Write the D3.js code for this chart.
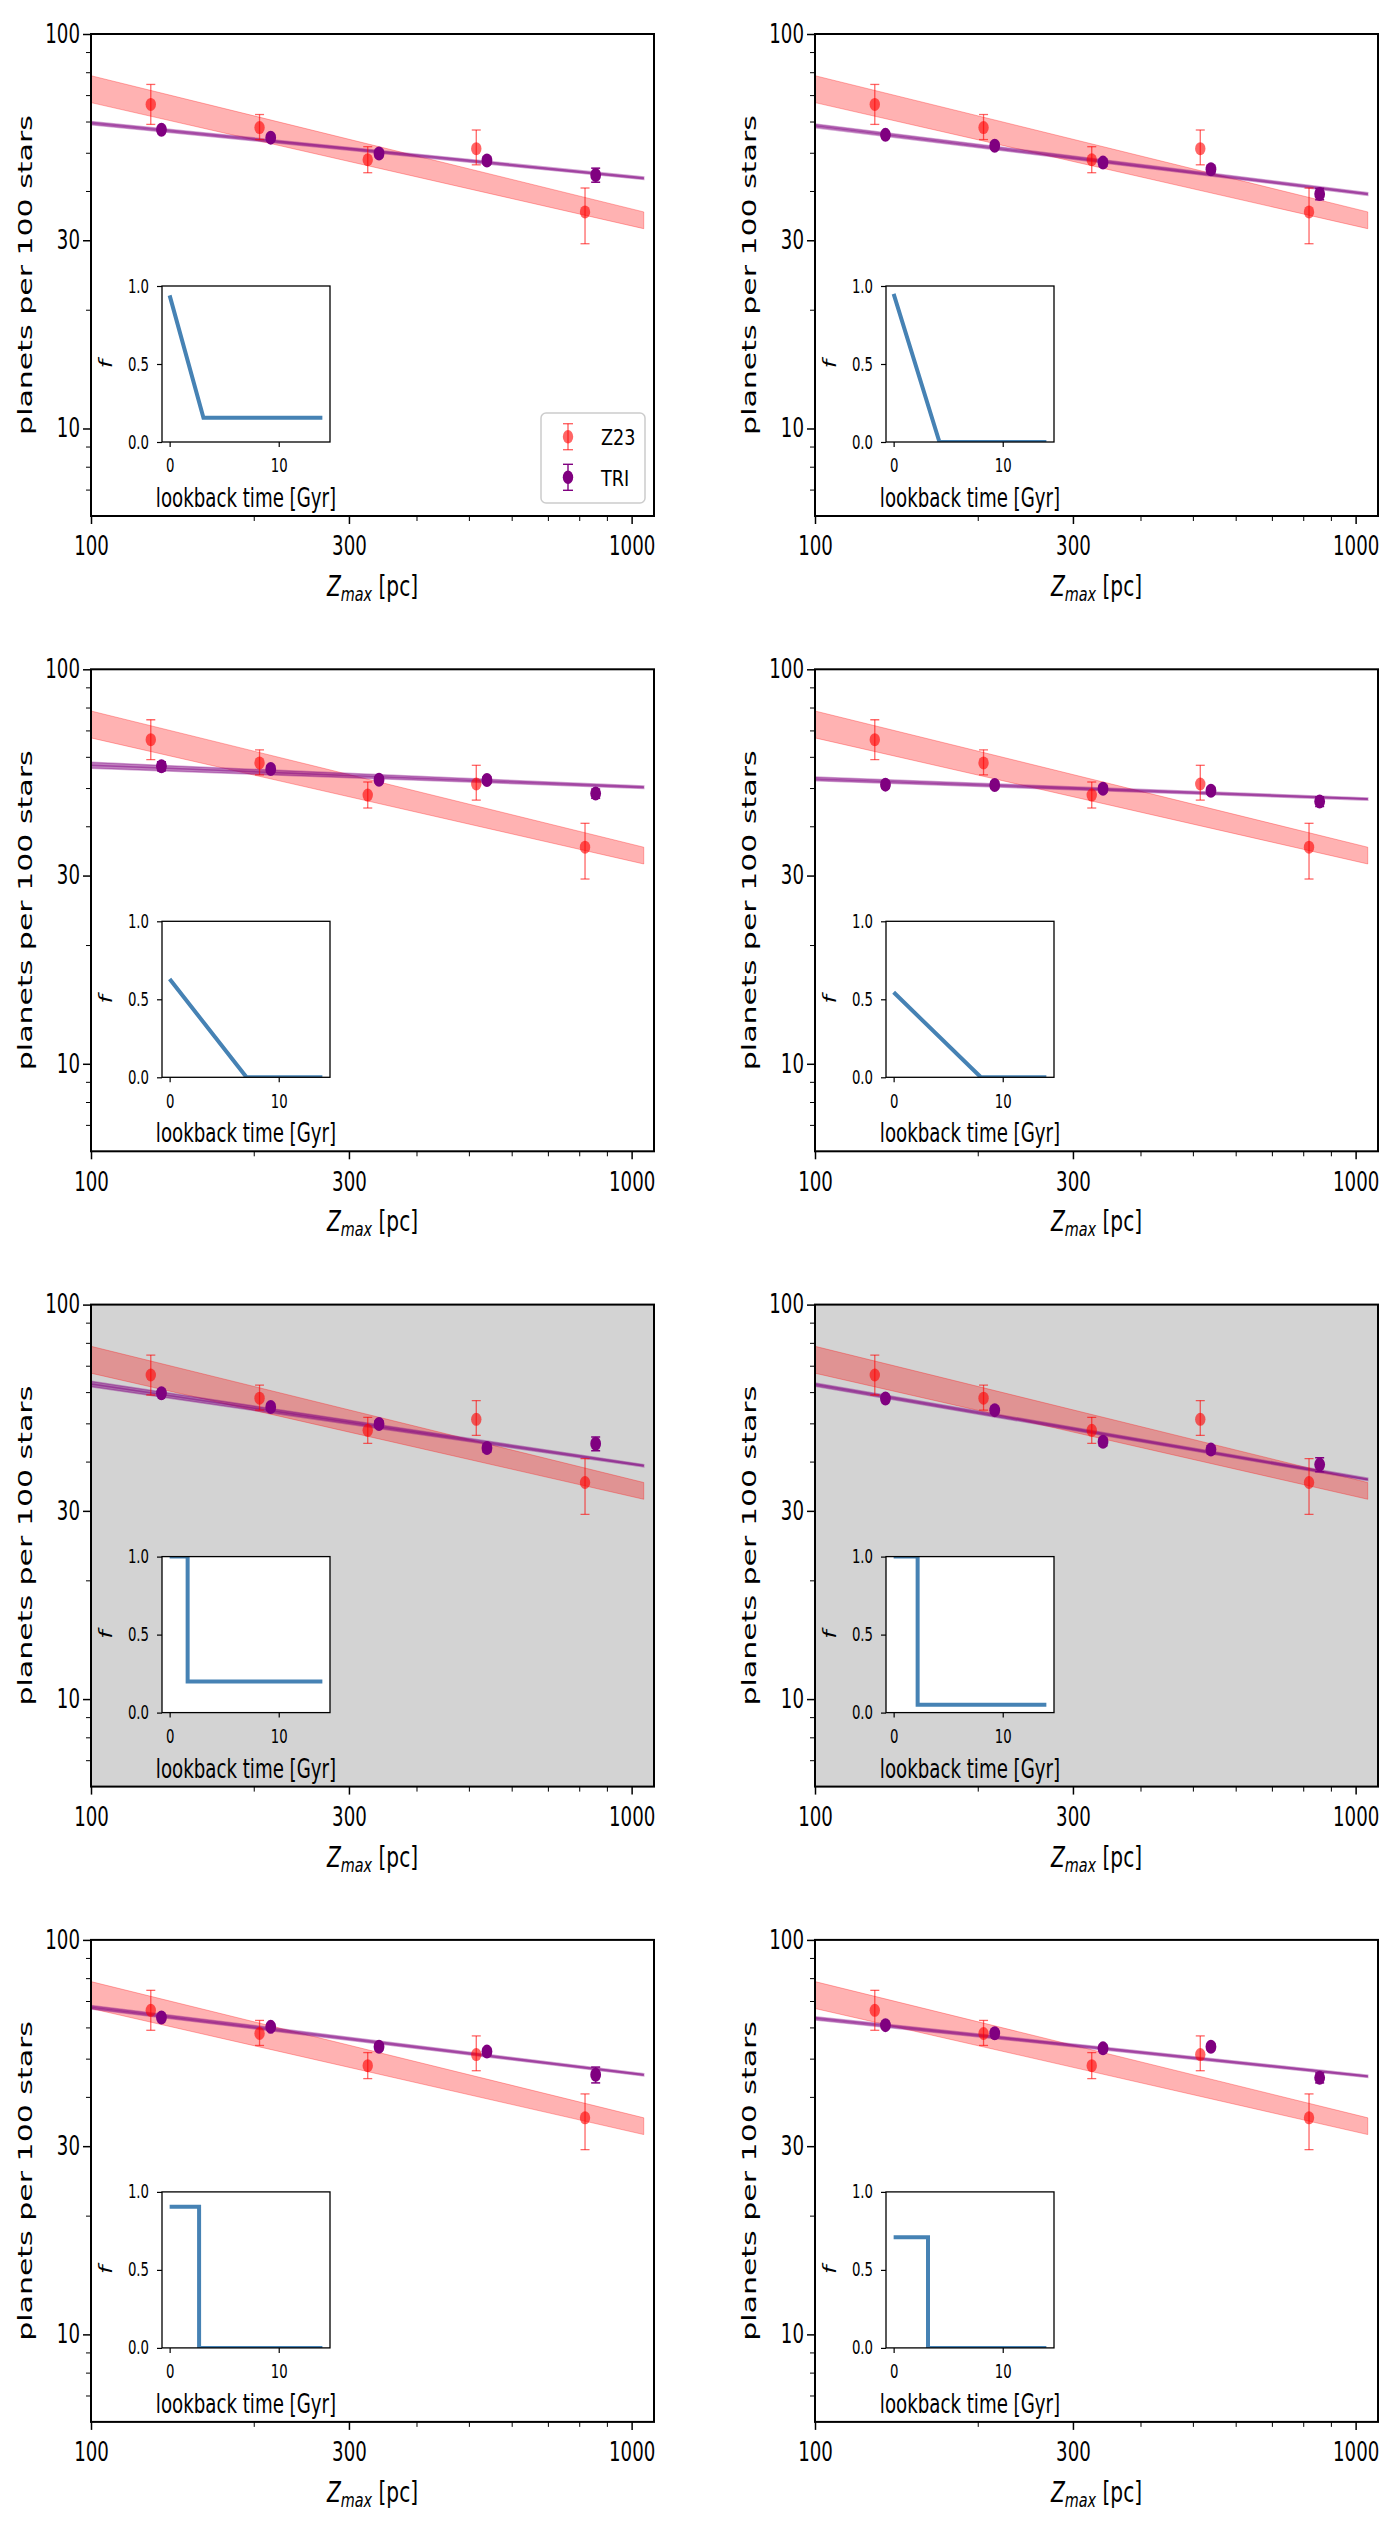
<!DOCTYPE html>
<html>
<head>
<meta charset="utf-8">
<script src="https://cdn.jsdelivr.net/npm/d3@7"></script>
<style>
  body { margin: 0; background: #fff; }
  svg { display: block; }
  text { font-family: "DejaVu Sans", sans-serif; fill: #000; }
</style>
</head>
<body>
<div id="chart"></div>
<script>
// Z23 observed occurrence (same in every panel)
const zmaxZ23 = [129, 205, 325, 516, 820]
const z23Rate = [66.3, 57.9, 48.0, 51.2, 35.4]
const z23Lo = [59.0, 54.0, 44.5, 46.6, 29.4]
const z23Hi = [74.5, 62.5, 51.8, 57.1, 40.7]

// Z23 power-law fit band, evaluated at the two ends of the fit range
const fitZ = [100, 1053]
const z23BandLo = [67.0, 32.1]
const z23BandHi = [78.4, 35.4]

// TRILEGAL model points, one row per panel (left to right, top to bottom)
const zmaxTRI = [135, 215, 341, 540, 858]
const triRate = [
  [57.2, 54.6, 49.8, 47.8, 43.9],
  [55.5, 52.1, 47.2, 45.4, 39.3],
  [56.8, 55.9, 52.5, 52.4, 48.4],
  [51.0, 50.9, 49.8, 49.2, 46.2],
  [59.6, 55.0, 49.8, 43.3, 44.4],
  [57.8, 54.0, 44.9, 42.9, 39.3],
  [63.6, 60.2, 53.6, 52.1, 45.5],
  [60.8, 58.0, 53.1, 53.6, 44.7]
]
const triErr = [
  [1.0, 1.0, 1.0, 1.0, 1.8],
  [1.0, 1.0, 1.0, 1.0, 1.3],
  [1.5, 1.0, 1.0, 1.0, 1.3],
  [1.0, 1.0, 1.0, 1.0, 1.3],
  [1.0, 1.0, 1.0, 1.0, 1.8],
  [1.0, 1.0, 1.0, 1.0, 1.6],
  [1.0, 1.0, 1.0, 1.0, 2.1],
  [1.0, 1.0, 1.0, 1.0, 1.3]
]
// TRI fit band at fitZ ends
const triBandLo = [
  [58.9, 42.8], [57.9, 39.0], [56.1, 49.9], [52.2, 46.6],
  [61.9, 38.8], [62.1, 35.8], [66.8, 45.2], [62.7, 44.8]
]
const triBandHi = [
  [60.0, 43.4], [59.1, 39.6], [58.1, 50.6], [53.3, 47.2],
  [63.9, 39.3], [63.3, 36.3], [68.2, 45.8], [63.9, 45.4]
]

// inset: f vs lookback time
const lbTime = [
  [0, 3.1, 14], [0, 4.2, 14], [0, 7.05, 14], [0, 8.0, 14],
  [0, 1.65, 1.65, 14], [0, 2.2, 2.2, 14], [0, 2.7, 2.7, 14], [0, 3.15, 3.15, 14]
]
const lbF = [
  [0.94, 0.155, 0.155], [0.95, 0, 0], [0.63, 0, 0], [0.545, 0, 0],
  [1, 1, 0.2, 0.2], [1, 1, 0.05, 0.05], [0.905, 0.905, 0, 0], [0.71, 0.71, 0, 0]
]
const grayPanel = [false, false, false, false, true, true, false, false]

const xMajor = [100, 300, 1000]
const xMinor = [200, 400, 500, 600, 700, 800, 900]
const yMajor = [10, 30, 100]
const yMinor = [7, 8, 9, 20, 40, 50, 60, 70, 80, 90]
const insetXTicks = [0, 10]
const insetYTicks = [0, 0.5, 1]

const W = 1397, H = 2526
const SX = 0.7
const cols = [91, 815], rowTop = 34, rowStep = 635.3
const pw = 563, ph = 482

const svg = d3.select('#chart').append('svg')
  .attr('width', W).attr('height', H)

const squish = (sel, k) => {
  sel.attr('x', function () { return (+d3.select(this).attr('x') || 0) / k })
    .attr('transform', `scale(${k},1)`)
}

const styleAxis = (g, size, width) => {
  g.select('.domain').remove()
  g.attr('font-family', '"DejaVu Sans", sans-serif').attr('font-size', size)
  g.selectAll('line').attr('stroke', '#000').attr('stroke-width', width)
}

triRate.forEach((rates, i) => {
  const left = cols[i % 2]
  const top = rowTop + Math.floor(i / 2) * rowStep
  const g = svg.append('g')

  const x = d3.scaleLog().domain([100, 1100]).range([left, left + pw])
  const y = d3.scaleLog().domain([6, 100]).range([top + ph, top])

  g.append('rect').attr('x', left).attr('y', top).attr('width', pw).attr('height', ph)
    .attr('fill', grayPanel[i] ? '#d3d3d3' : '#fff')

  const clipId = 'clip' + i
  g.append('clipPath').attr('id', clipId).append('rect')
    .attr('x', left).attr('y', top).attr('width', pw).attr('height', ph)
  const plot = g.append('g').attr('clip-path', `url(#${clipId})`)

  const band = d3.area().x(d => x(d.z)).y0(d => y(d.lo)).y1(d => y(d.hi))

  // Z23 band
  plot.append('path')
    .datum(fitZ.map((z, k) => ({ z, lo: z23BandLo[k], hi: z23BandHi[k] })))
    .attr('d', band)
    .attr('fill', 'red').attr('fill-opacity', 0.3)
    .attr('stroke', 'red').attr('stroke-opacity', 0.3).attr('stroke-width', 1)

  // TRI band + line
  const triB = fitZ.map((z, k) => ({ z, lo: triBandLo[i][k], hi: triBandHi[i][k] }))
  plot.append('path').datum(triB).attr('d', band)
    .attr('fill', 'purple').attr('fill-opacity', 0.5)
    .attr('stroke', 'purple').attr('stroke-opacity', 0.35).attr('stroke-width', 1.5)
  plot.append('path').datum(triB)
    .attr('d', d3.line().x(d => x(d.z)).y(d => y(Math.sqrt(d.lo * d.hi))))
    .attr('stroke', 'purple').attr('stroke-opacity', 0.45).attr('stroke-width', 1.5)
    .attr('fill', 'none')

  // Z23 error bars
  const z23 = zmaxZ23.map((z, k) => ({ z, v: z23Rate[k], lo: z23Lo[k], hi: z23Hi[k] }))
  const eb = plot.append('g').attr('stroke', 'red').attr('stroke-opacity', 0.6).attr('stroke-width', 1.3)
  z23.forEach(d => {
    eb.append('line').attr('x1', x(d.z)).attr('x2', x(d.z)).attr('y1', y(d.lo)).attr('y2', y(d.hi))
    eb.append('line').attr('x1', x(d.z) - 4.5).attr('x2', x(d.z) + 4.5).attr('y1', y(d.lo)).attr('y2', y(d.lo))
    eb.append('line').attr('x1', x(d.z) - 4.5).attr('x2', x(d.z) + 4.5).attr('y1', y(d.hi)).attr('y2', y(d.hi))
  })
  plot.selectAll('ellipse.z23').data(z23).join('ellipse')
    .attr('cx', d => x(d.z)).attr('cy', d => y(d.v)).attr('rx', 5.2).attr('ry', 6.5)
    .attr('fill', 'red').attr('fill-opacity', 0.6)

  // TRI points
  const tri = zmaxTRI.map((z, k) => ({ z, v: rates[k], e: triErr[i][k] }))
  const ebt = plot.append('g').attr('stroke', 'purple').attr('stroke-width', 1.5)
  tri.forEach(d => {
    ebt.append('line').attr('x1', x(d.z)).attr('x2', x(d.z)).attr('y1', y(d.v - d.e)).attr('y2', y(d.v + d.e))
    ebt.append('line').attr('x1', x(d.z) - 4.5).attr('x2', x(d.z) + 4.5).attr('y1', y(d.v - d.e)).attr('y2', y(d.v - d.e))
    ebt.append('line').attr('x1', x(d.z) - 4.5).attr('x2', x(d.z) + 4.5).attr('y1', y(d.v + d.e)).attr('y2', y(d.v + d.e))
  })
  plot.selectAll('ellipse.tri').data(tri).join('ellipse')
    .attr('cx', d => x(d.z)).attr('cy', d => y(d.v)).attr('rx', 5.4).attr('ry', 7)
    .attr('fill', 'purple')

  // axes
  const gx = g.append('g').attr('transform', `translate(0,${top + ph})`)
    .call(d3.axisBottom(x).tickValues(xMajor).tickFormat(d3.format('d')).tickSize(8).tickPadding(13))
  styleAxis(gx, 26, 1.5)
  squish(gx.selectAll('text'), SX)
  const gxm = g.append('g').attr('transform', `translate(0,${top + ph})`)
    .call(d3.axisBottom(x).tickValues(xMinor).tickFormat('').tickSize(5))
  styleAxis(gxm, 10, 1)

  const gy = g.append('g').attr('transform', `translate(${left},0)`)
    .call(d3.axisLeft(y).tickValues(yMajor).tickFormat(d3.format('d')).tickSize(8).tickPadding(3))
  styleAxis(gy, 26, 1.5)
  squish(gy.selectAll('text'), SX)
  const gym = g.append('g').attr('transform', `translate(${left},0)`)
    .call(d3.axisLeft(y).tickValues(yMinor).tickFormat('').tickSize(5))
  styleAxis(gym, 10, 1)

  g.append('rect').attr('x', left).attr('y', top).attr('width', pw).attr('height', ph)
    .attr('fill', 'none').attr('stroke', '#000').attr('stroke-width', 2)

  // axis labels
  g.append('text')
    .attr('transform', `translate(${left - 59},${top + ph / 2}) scale(0.62,1) rotate(-90)`)
    .attr('text-anchor', 'middle').attr('font-size', 30)
    .text('planets per 100 stars')

  const xl = g.append('text')
    .attr('transform', `translate(${left + pw / 2},${top + ph + 80}) scale(0.72,1)`)
    .attr('text-anchor', 'middle').attr('font-size', 28)
  xl.append('tspan').attr('font-style', 'italic').text('Z')
  xl.append('tspan').attr('font-style', 'italic').attr('font-size', 20).attr('dy', 5).text('max')
  xl.append('tspan').attr('dy', -5).text(' [pc]')

  // inset
  const il = left + 71, it = top + 252, iw = 168, ih = 156
  const xi = d3.scaleLinear().domain([-0.7, 14.7]).range([il, il + iw])
  const yi = d3.scaleLinear().domain([0, 1]).range([it + ih, it])
  g.append('rect').attr('x', il).attr('y', it).attr('width', iw).attr('height', ih).attr('fill', '#fff')
  const iclip = 'iclip' + i
  g.append('clipPath').attr('id', iclip).append('rect')
    .attr('x', il).attr('y', it).attr('width', iw).attr('height', ih)
  g.append('path')
    .datum(lbTime[i].map((t, k) => ({ t, f: lbF[i][k] })))
    .attr('clip-path', `url(#${iclip})`)
    .attr('d', d3.line().x(d => xi(d.t)).y(d => yi(d.f)))
    .attr('fill', 'none').attr('stroke', '#4682b4').attr('stroke-width', 4)

  const ix = g.append('g').attr('transform', `translate(0,${it + ih})`)
    .call(d3.axisBottom(xi).tickValues(insetXTicks).tickFormat(d3.format('d')).tickSize(5).tickPadding(12))
  styleAxis(ix, 19, 1.2)
  squish(ix.selectAll('text'), SX)
  const iy = g.append('g').attr('transform', `translate(${il},0)`)
    .call(d3.axisLeft(yi).tickValues(insetYTicks).tickFormat(d3.format('.1f')).tickSize(5).tickPadding(8))
  styleAxis(iy, 19, 1.2)
  squish(iy.selectAll('text'), SX)
  g.append('rect').attr('x', il).attr('y', it).attr('width', iw).attr('height', ih)
    .attr('fill', 'none').attr('stroke', '#000').attr('stroke-width', 1.3)

  g.append('text')
    .attr('transform', `translate(${il + iw / 2},${it + ih + 65}) scale(${SX},1)`)
    .attr('text-anchor', 'middle').attr('font-size', 26)
    .text('lookback time [Gyr]')
  g.append('text')
    .attr('transform', `translate(${il - 50},${it + ih / 2}) scale(${SX},1) rotate(-90)`)
    .attr('text-anchor', 'middle').attr('font-size', 24).attr('font-style', 'italic')
    .text('f')

  // legend (first panel only)
  if (i === 0) {
    const lx = left + pw - 113, ly = top + ph - 103
    const lg = g.append('g')
    lg.append('rect').attr('x', lx).attr('y', ly).attr('width', 104).attr('height', 90).attr('rx', 5)
      .attr('fill', '#fff').attr('fill-opacity', 0.8).attr('stroke', '#cccccc').attr('stroke-width', 1.5)
    const entries = [
      { name: 'Z23', color: 'red', op: 0.6, dy: 23.7 },
      { name: 'TRI', color: 'purple', op: 1, dy: 64.3 }
    ]
    entries.forEach(e => {
      const cx = lx + 27, cy = ly + e.dy
      const s = lg.append('g').attr('stroke', e.color).attr('stroke-opacity', e.op).attr('stroke-width', 1.4)
      s.append('line').attr('x1', cx).attr('x2', cx).attr('y1', cy - 13).attr('y2', cy + 13)
      s.append('line').attr('x1', cx - 5).attr('x2', cx + 5).attr('y1', cy - 13).attr('y2', cy - 13)
      s.append('line').attr('x1', cx - 5).attr('x2', cx + 5).attr('y1', cy + 13).attr('y2', cy + 13)
      lg.append('ellipse').attr('cx', cx).attr('cy', cy).attr('rx', 5.2).attr('ry', 6.8)
        .attr('fill', e.color).attr('fill-opacity', e.op)
      lg.append('text')
        .attr('transform', `translate(${lx + 60},${cy + 8.5}) scale(0.8,1)`)
        .attr('font-size', 22).text(e.name)
    })
  }
})
</script>
</body>
</html>
